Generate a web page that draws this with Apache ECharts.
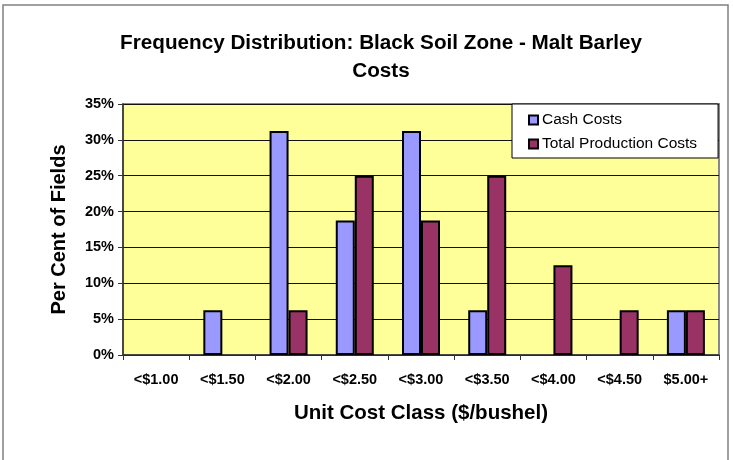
<!DOCTYPE html>
<html>
<head>
<meta charset="utf-8">
<script src="https://cdn.jsdelivr.net/npm/echarts@6/dist/echarts.min.js"></script>
<style>
    html, body { margin: 0; padding: 0; background: #fff; }
    #main { width: 733px; height: 460px; }
</style>
</head>
<body>
<div id="main"></div>
<script>
    var categories = ['<$1.00', '<$1.50', '<$2.00', '<$2.50', '<$3.00', '<$3.50', '<$4.00', '<$4.50', '$5.00+'];
    var cashCosts = [0, 6.25, 31.25, 18.75, 31.25, 6.25, 0, 0, 6.25];
    var totalCosts = [0, 0, 6.25, 25, 18.75, 25, 12.5, 6.25, 6.25];

    // zero bars are not drawn at all in the original (no border line)
    function hideZero(arr) {
        return arr.map(function (v) { return v === 0 ? '-' : v; });
    }

    var chartDom = document.getElementById('main');
    var myChart = echarts.init(chartDom);
    var font = 'Liberation Sans, Arial, sans-serif';

    var option = {
        animation: false,
        title: {
            text: 'Frequency Distribution: Black Soil Zone - Malt Barley\nCosts',
            left: 376,
            textAlign: 'center',
            top: 24,
            textStyle: {
                fontFamily: font,
                fontSize: 20.7,
                fontWeight: 'bold',
                color: '#000',
                lineHeight: 28
            }
        },
        color: ['#9999FF', '#993366'],
        legend: {
            orient: 'vertical',
            left: 512,
            top: 104,
            padding: [7, 21, 5, 16],
            itemGap: 6,
            itemWidth: 9,
            itemHeight: 9,
            icon: 'rect',
            backgroundColor: '#fff',
            borderColor: '#000',
            borderWidth: 1,
            textStyle: { fontFamily: font, fontSize: 15.5, color: '#000', padding: [0, 0, 0, -1], lineHeight: 18 },
            data: ['Cash Costs', 'Total Production Costs']
        },
        grid: {
            left: 123,
            right: 14,
            top: 104,
            bottom: 105,
            show: true,
            backgroundColor: '#FFFF99',
            borderColor: '#888',
            borderWidth: 2
        },
        xAxis: {
            type: 'category',
            data: categories,
            name: 'Unit Cost Class ($/bushel)',
            nameLocation: 'middle',
            nameGap: 48,
            nameTextStyle: { fontFamily: font, fontSize: 20.5, fontWeight: 'bold', color: '#000' },
            axisLine: { lineStyle: { color: '#333', width: 1.5 } },
            axisTick: { show: true, length: 5, lineStyle: { color: '#333' } },
            axisLabel: { fontFamily: font, fontSize: 14.5, fontWeight: 'bold', color: '#000', margin: 17, interval: 0 }
        },
        yAxis: {
            type: 'value',
            min: 0,
            max: 35,
            interval: 5,
            name: 'Per Cent of Fields',
            nameLocation: 'middle',
            nameGap: 54,
            nameTextStyle: { fontFamily: font, fontSize: 20, fontWeight: 'bold', color: '#000' },
            axisLine: { show: true, lineStyle: { color: '#333', width: 1.5 } },
            axisTick: { show: true, length: 5, lineStyle: { color: '#333' } },
            axisLabel: { fontFamily: font, fontSize: 14.5, fontWeight: 'bold', color: '#000', margin: 9, formatter: '{value}%' },
            splitLine: { show: true, lineStyle: { color: '#111', width: 1 } }
        },
        graphic: [{
            type: 'rect',
            shape: { x: 3, y: 5, width: 725, height: 470 },
            style: { fill: 'none', stroke: '#808080', lineWidth: 1.5 },
            silent: true
        }],
        series: [
            {
                name: 'Cash Costs',
                type: 'bar',
                data: hideZero(cashCosts),
                barWidth: 19,
                barGap: '0%',
                itemStyle: { borderColor: '#000', borderWidth: 2 }
            },
            {
                name: 'Total Production Costs',
                type: 'bar',
                data: hideZero(totalCosts),
                barWidth: 19,
                itemStyle: { borderColor: '#000', borderWidth: 2 }
            }
        ]
    };

    option && myChart.setOption(option);
</script>
</body>
</html>
